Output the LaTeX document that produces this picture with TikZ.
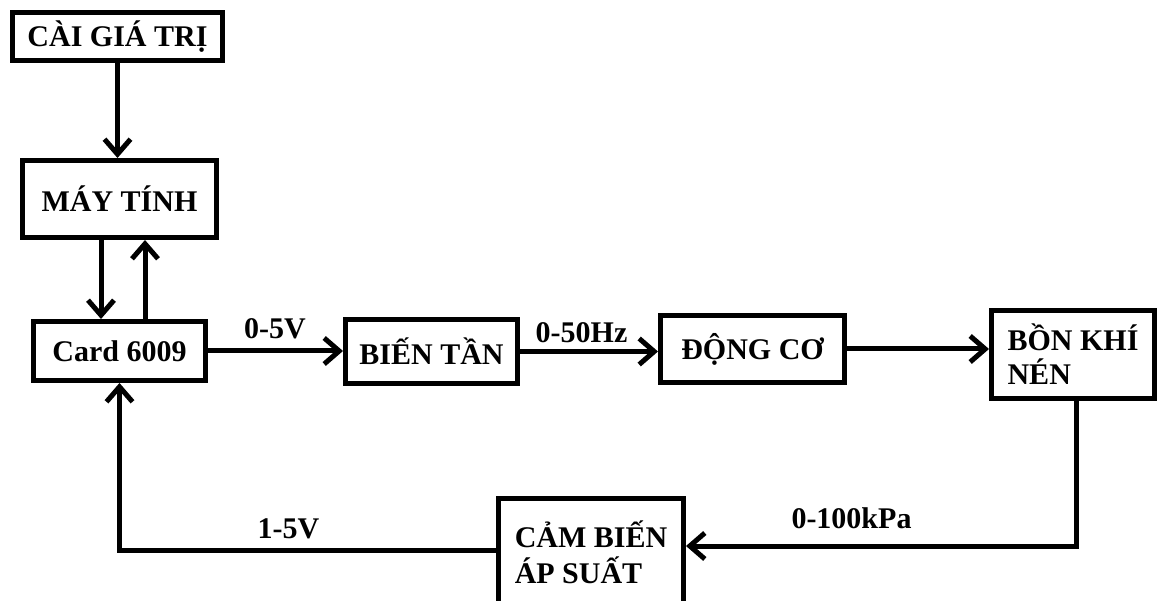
\documentclass[tikz,border=0pt]{standalone}
\usepackage{fontspec}
\setmainfont{Liberation Serif}
\usetikzlibrary{arrows.meta}
\begin{document}
\begin{tikzpicture}[x=1pt,y=-1pt,
  blk/.style={draw=black,line width=5pt,rectangle,inner sep=0pt,fill=white,
    font=\fontsize{30}{34}\selectfont\bfseries},
  conn/.style={line width=5pt,-{Straight Barb[length=15pt,width=26pt,line width=5pt]}},
  plain/.style={line width=5pt},
  lbl/.style={anchor=base,inner sep=0pt,font=\fontsize{30}{34}\selectfont\bfseries}]
\useasboundingbox (0,0) rectangle (1160,601);
\begin{scope}
\clip (0,0) rectangle (1160,601);
\node[blk,minimum width=210pt,minimum height=48pt] (cai) at (117.5,36.5) {CÀI GIÁ TRỊ};
\node[blk,minimum width=194pt,minimum height=77pt] (may) at (119.5,199) {MÁY TÍNH};
\node[blk,minimum width=172pt,minimum height=59pt] (card) at (119.5,351) {Card 6009};
\node[blk,minimum width=172pt,minimum height=64pt] (bien) at (431.5,351.5) {BIẾN TẦN};
\node[blk,minimum width=184pt,minimum height=67pt] (dong) at (752.5,349) {ĐỘNG CƠ};
\node[blk,minimum width=163pt,minimum height=88pt,align=left] (bon) at (1073,354.5) {BỒN KHÍ\\NÉN};
\node[blk,minimum width=185pt,minimum height=107.5pt,align=left,font=\fontsize{30}{36}\selectfont\bfseries] (cam) at (591,552.25) {CẢM BIẾN\\ÁP SUẤT};

\coordinate (c1) at (101,0);
\coordinate (c2) at (145,0);
\coordinate (r1) at (1076,546);
\coordinate (l1) at (0,550);

\draw[conn] (cai.south) -- (cai.south |- may.north);
\draw[conn] (may.south -| c1) -- (card.north -| c1);
\draw[conn] (card.north -| c2) -- (may.south -| c2);
\draw[conn] (card.east) -- (card.east -| bien.west);
\draw[conn] (bien.east) -- (bien.east -| dong.west);
\draw[conn] (dong.east) -- (dong.east -| bon.west);
\draw[conn] (bon.south -| r1) |- (cam.east |- r1);
\draw[conn] (cam.west |- l1) -| (card.south);

\node[lbl] (l05) at (275,339) {0-5V};
\node[lbl] (l050) at (581.5,343) {0-50Hz};
\node[lbl] (l0100) at (851.5,529) {0-100kPa};
\node[lbl] (l15) at (288.5,539) {1-5V};
\end{scope}
\end{tikzpicture}
\end{document}
